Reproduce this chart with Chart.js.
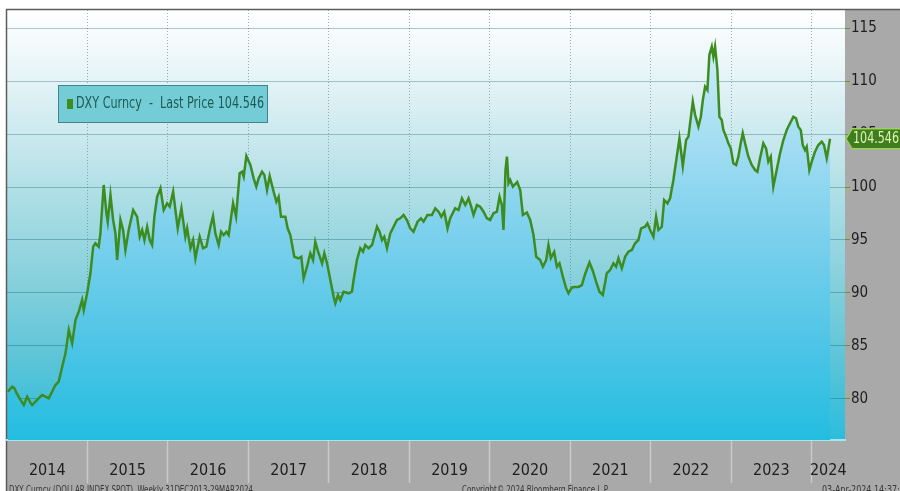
<!DOCTYPE html>
<html>
<head>
<meta charset="utf-8">
<title>DXY Curncy</title>
<script src="https://cdn.jsdelivr.net/npm/chart.js@4.4.1/dist/chart.umd.min.js"></script>
<style>
  html, body { margin: 0; padding: 0; background: #fff; overflow: hidden; }
  #wrap { width: 900px; height: 491px; }
</style>
</head>
<body>
<div id="wrap"><canvas id="dxy-chart" width="900" height="491"></canvas></div>
<script>
// DXY weekly last price, 31 Dec 2013 - 29 Mar 2024 (turning points, decimal years)
const seriesLabel = "DXY Curncy";

const weeks = [
  2014.010, 2014.065, 2014.093, 2014.118, 2014.168, 2014.209, 2014.251, 2014.283, 2014.313, 2014.354,
  2014.395, 2014.437, 2014.478, 2014.519, 2014.561, 2014.602, 2014.643, 2014.686, 2014.727, 2014.768,
  2014.789, 2014.810, 2014.851, 2014.892, 2014.934, 2014.954, 2014.996, 2015.037, 2015.071, 2015.099,
  2015.140, 2015.161, 2015.202, 2015.236, 2015.252, 2015.286, 2015.319, 2015.348, 2015.369, 2015.410,
  2015.443, 2015.472, 2015.513, 2015.568, 2015.617, 2015.650, 2015.680, 2015.708, 2015.742, 2015.774,
  2015.804, 2015.832, 2015.866, 2015.907, 2015.948, 2015.990, 2016.022, 2016.065, 2016.122, 2016.168,
  2016.217, 2016.239, 2016.280, 2016.313, 2016.342, 2016.395, 2016.437, 2016.478, 2016.528, 2016.561,
  2016.590, 2016.631, 2016.661, 2016.693, 2016.727, 2016.755, 2016.810, 2016.847, 2016.892, 2016.922,
  2016.942, 2016.975, 2017.025, 2017.066, 2017.099, 2017.128, 2017.170, 2017.199, 2017.232, 2017.265,
  2017.314, 2017.348, 2017.376, 2017.406, 2017.460, 2017.488, 2017.522, 2017.571, 2017.625, 2017.658,
  2017.687, 2017.729, 2017.770, 2017.804, 2017.832, 2017.873, 2017.916, 2017.944, 2017.978, 2018.019,
  2018.060, 2018.081, 2018.114, 2018.143, 2018.184, 2018.246, 2018.288, 2018.308, 2018.350, 2018.391,
  2018.425, 2018.453, 2018.494, 2018.537, 2018.599, 2018.631, 2018.661, 2018.689, 2018.723, 2018.764,
  2018.805, 2018.847, 2018.888, 2018.929, 2018.971, 2019.012, 2019.053, 2019.103, 2019.145, 2019.178,
  2019.227, 2019.282, 2019.323, 2019.364, 2019.398, 2019.435, 2019.476, 2019.509, 2019.571, 2019.612,
  2019.655, 2019.696, 2019.737, 2019.770, 2019.799, 2019.841, 2019.882, 2019.923, 2019.965, 2020.006,
  2020.047, 2020.089, 2020.122, 2020.151, 2020.171, 2020.196, 2020.214, 2020.234, 2020.255, 2020.288,
  2020.342, 2020.379, 2020.412, 2020.462, 2020.503, 2020.544, 2020.578, 2020.627, 2020.661, 2020.702,
  2020.730, 2020.760, 2020.801, 2020.835, 2020.867, 2020.909, 2020.950, 2020.979, 2021.021, 2021.062,
  2021.103, 2021.145, 2021.186, 2021.240, 2021.282, 2021.323, 2021.364, 2021.406, 2021.455, 2021.497,
  2021.538, 2021.571, 2021.600, 2021.642, 2021.683, 2021.724, 2021.766, 2021.807, 2021.848, 2021.882,
  2021.932, 2021.960, 2021.994, 2022.035, 2022.068, 2022.097, 2022.139, 2022.168, 2022.209, 2022.242,
  2022.283, 2022.325, 2022.358, 2022.400, 2022.441, 2022.470, 2022.524, 2022.553, 2022.594, 2022.624,
  2022.649, 2022.677, 2022.706, 2022.730, 2022.760, 2022.780, 2022.801, 2022.830, 2022.855, 2022.884,
  2022.904, 2022.938, 2022.966, 2022.996, 2023.028, 2023.062, 2023.091, 2023.120, 2023.145, 2023.174,
  2023.215, 2023.257, 2023.298, 2023.327, 2023.360, 2023.401, 2023.435, 2023.463, 2023.493, 2023.525,
  2023.567, 2023.609, 2023.650, 2023.692, 2023.733, 2023.774, 2023.807, 2023.836, 2023.866, 2023.891,
  2023.919, 2023.940, 2023.973, 2024.003, 2024.043, 2024.084, 2024.127, 2024.155, 2024.189, 2024.230
];

const dxyClose = [
  80.69, 81.16, 81.01, 80.57, 79.91, 79.43, 80.22, 79.75, 79.43, 79.75,
  80.07, 80.38, 80.22, 80.07, 80.69, 81.32, 81.63, 83.05, 84.31, 86.51,
  85.88, 85.25, 87.45, 88.24, 89.34, 88.40, 89.97, 91.86, 94.37, 94.69,
  94.37, 95.63, 100.19, 97.52, 96.73, 99.25, 96.89, 95.63, 93.11, 96.89,
  95.94, 94.06, 95.94, 97.83, 97.20, 95.31, 95.94, 95.00, 96.25, 95.00,
  94.53, 97.20, 99.08, 99.88, 97.83, 98.46, 98.14, 99.56, 96.10, 97.99,
  95.31, 96.10, 94.22, 95.00, 93.27, 95.31, 94.22, 94.37, 96.25, 97.26,
  95.63, 94.53, 95.78, 95.47, 95.78, 95.47, 98.46, 97.20, 101.29, 101.44,
  100.97, 102.92, 102.08, 100.82, 100.03, 100.82, 101.44, 101.13, 99.72, 101.04,
  99.56, 98.61, 99.08, 97.20, 97.20, 96.10, 95.47, 93.42, 93.27, 93.42,
  91.39, 92.48, 93.75, 93.11, 94.84, 93.75, 92.80, 93.75, 92.80, 91.23,
  89.65, 89.03, 89.81, 89.34, 90.12, 89.97, 90.12, 91.23, 93.11, 94.22,
  93.90, 94.53, 94.22, 94.53, 96.25, 95.78, 95.00, 95.31, 94.22, 95.63,
  96.25, 96.89, 97.05, 97.36, 96.89, 96.10, 95.78, 96.73, 97.05, 96.73,
  97.36, 97.36, 97.99, 97.67, 97.20, 97.67, 96.10, 97.05, 97.99, 97.83,
  98.93, 98.30, 98.93, 98.14, 97.36, 98.30, 98.14, 97.67, 97.05, 96.89,
  97.52, 97.67, 99.08, 98.30, 95.94, 101.60, 102.86, 100.35, 100.66, 100.03,
  100.47, 99.72, 97.36, 97.59, 96.89, 95.47, 93.42, 93.11, 92.48, 93.11,
  94.53, 93.30, 93.87, 92.48, 92.80, 91.54, 90.44, 89.97, 90.52, 90.57,
  90.57, 90.75, 91.79, 92.88, 92.08, 91.04, 90.12, 89.81, 91.86, 92.17,
  92.80, 92.48, 93.27, 92.33, 93.42, 93.90, 94.06, 94.69, 95.00, 96.10,
  96.25, 96.57, 95.94, 95.31, 97.20, 95.94, 96.25, 98.77, 98.46, 98.93,
  100.66, 102.86, 104.59, 101.98, 104.43, 104.75, 108.05, 106.79, 105.69, 106.63,
  108.21, 109.46, 109.15, 112.45, 113.24, 112.29, 113.24, 111.04, 106.63, 106.32,
  105.38, 104.75, 104.12, 103.65, 102.24, 102.08, 102.86, 104.12, 105.07, 104.12,
  102.86, 102.08, 101.60, 101.44, 102.71, 104.12, 103.65, 102.39, 102.86, 100.03,
  101.60, 103.18, 104.43, 105.38, 106.01, 106.63, 106.48, 105.69, 105.38, 103.96,
  103.49, 103.80, 101.60, 102.39, 103.33, 103.96, 104.27, 103.96, 102.71, 104.546
];

const yearLabels = ["2014", "2015", "2016", "2017", "2018", "2019", "2020", "2021", "2022", "2023", "2024"];
const priceTicks = [80, 85, 90, 95, 100, 105, 110, 115];

const xMin = 2014.0, xMax = 2024.416;
const yMin = 76.13, yMax = 116.7;

const NARROW = "'DejaVu Sans Condensed', 'Liberation Sans', sans-serif";
const lastPrice = dxyClose[dxyClose.length - 1];

// year boundaries carry the grid lines, the middle of each visible year carries the label
const yearTicks = [];
yearLabels.forEach(function (lbl) {
  const start = Number(lbl);
  if (start > xMin) yearTicks.push({ value: start, label: "" });
  const a = Math.max(start, xMin), b = Math.min(start + 1, xMax);
  yearTicks.push({ value: (a + b) / 2, label: lbl });
});

const isBoundary = function (c) {
  return c.tick && Number.isInteger(c.tick.value);
};

// squeeze a string horizontally into the given width
function narrowText(ctx, text, x, y, width) {
  const w = ctx.measureText(text).width;
  ctx.save();
  ctx.translate(x, y);
  ctx.scale(Math.min(1, width / w), 1);
  ctx.fillText(text, 0, 0);
  ctx.restore();
}

// panel backgrounds and frame
const panelBackground = {
  id: "panelBackground",
  beforeDraw: function (chart) {
    const ctx = chart.ctx, a = chart.chartArea, w = chart.width, h = chart.height;
    ctx.save();
    ctx.fillStyle = "#ffffff";
    ctx.fillRect(0, 0, w, h);
    ctx.fillStyle = "#a9a9a9";
    ctx.fillRect(a.right, a.top - 1, w - a.right, h - a.top + 1);
    ctx.fillRect(a.left - 1, a.bottom, w - a.left + 1, h - a.bottom);

    const g = ctx.createLinearGradient(0, a.top, 0, a.bottom);
    g.addColorStop(0, "#ffffff");
    g.addColorStop(0.06, "#f6fbfc");
    g.addColorStop(0.22, "#d9eff3");
    g.addColorStop(0.42, "#b0dfe6");
    g.addColorStop(0.62, "#88d1dc");
    g.addColorStop(0.82, "#5ac4d7");
    g.addColorStop(1, "#2bbddd");
    ctx.fillStyle = g;
    ctx.fillRect(a.left, a.top, a.right - a.left, a.bottom - a.top);

    ctx.strokeStyle = "#5c5c5c";
    ctx.lineWidth = 1.5;
    ctx.beginPath();
    ctx.moveTo(a.left - 0.5, h);
    ctx.lineTo(a.left - 0.5, a.top - 0.5);
    ctx.lineTo(w, a.top - 0.5);
    ctx.stroke();
    ctx.restore();
  }
};

// legend box, last-price tag and footer lines
const annotations = {
  id: "annotations",
  afterDraw: function (chart) {
    const ctx = chart.ctx, a = chart.chartArea, w = chart.width;
    const yScale = chart.scales.y;
    ctx.save();

    // legend
    ctx.fillStyle = "#74ccd6";
    ctx.strokeStyle = "#40858c";
    ctx.lineWidth = 1;
    ctx.fillRect(58, 85, 210, 38);
    ctx.strokeRect(58.5, 85.5, 209, 37);
    ctx.fillStyle = "#3c8c1e";
    ctx.fillRect(67, 99, 6, 10);
    ctx.fillStyle = "#1f5b52";
    ctx.font = "15px " + NARROW;
    ctx.textBaseline = "middle";
    ctx.textAlign = "left";
    narrowText(ctx, seriesLabel + "  -  Last Price " + lastPrice.toFixed(3), 76, 104.5, 188);

    // last price tag on the value axis
    const y = yScale.getPixelForValue(lastPrice);
    const x0 = a.right + 1;
    ctx.beginPath();
    ctx.moveTo(x0, y);
    ctx.lineTo(x0 + 6, y - 10);
    ctx.lineTo(w + 2, y - 10);
    ctx.lineTo(w + 2, y + 10);
    ctx.lineTo(x0 + 6, y + 10);
    ctx.closePath();
    ctx.fillStyle = "#3f7d1f";
    ctx.fill();
    ctx.strokeStyle = "#9ccf5c";
    ctx.lineWidth = 1.5;
    ctx.stroke();
    ctx.fillStyle = "#def3ae";
    ctx.font = "15px " + NARROW;
    narrowText(ctx, lastPrice.toFixed(3), x0 + 7, y + 0.5, 46);

    // footer
    ctx.fillStyle = "#383838";
    ctx.font = "10px " + NARROW;
    ctx.textBaseline = "top";
    narrowText(ctx, "DXY Curncy (DOLLAR INDEX SPOT)  Weekly 31DEC2013-29MAR2024", 9, 485, 244);
    narrowText(ctx, "Copyright\u00a9 2024 Bloomberg Finance L.P.", 462, 485, 147);
    narrowText(ctx, "03-Apr-2024 14:37:34", 822, 485, 88);
    ctx.restore();
  }
};

document.addEventListener("DOMContentLoaded", function () {
  const ctx = document.getElementById("dxy-chart").getContext("2d");

  const points = weeks.map(function (t, i) {
    return { x: t, y: dxyClose[i] };
  });

  new Chart(ctx, {
    type: "line",
    data: {
      datasets: [{
        label: seriesLabel,
        data: points,
        borderColor: "#3d8c20",
        borderWidth: 2.5,
        pointRadius: 0,
        tension: 0,
        fill: "start",
        backgroundColor: function (c) {
          const a = c.chart.chartArea;
          if (!a) return "rgba(0,0,0,0)";
          const g = c.chart.ctx.createLinearGradient(0, a.top, 0, a.bottom);
          g.addColorStop(0, "#e2f4fb");
          g.addColorStop(0.2, "#b8e4f5");
          g.addColorStop(0.45, "#88d4ef");
          g.addColorStop(0.7, "#5cc8e8");
          g.addColorStop(1, "#23bde0");
          return g;
        }
      }]
    },
    options: {
      responsive: false,
      animation: false,
      layout: { padding: { left: 7, top: 10, right: 0, bottom: 0 } },
      plugins: {
        legend: { display: false },
        tooltip: { enabled: false }
      },
      scales: {
        x: {
          type: "linear",
          position: "bottom",
          min: xMin,
          max: xMax,
          z: 1,
          afterBuildTicks: function (scale) {
            scale.ticks = yearTicks.map(function (t) { return { value: t.value }; });
          },
          afterFit: function (scale) { scale.height = 51; },
          grid: {
            color: function (c) { return isBoundary(c) ? "rgba(95,110,118,0.55)" : "rgba(0,0,0,0)"; },
            tickColor: function (c) { return isBoundary(c) ? "#c9c9c9" : "rgba(0,0,0,0)"; },
            lineWidth: 1,
            tickLength: 43,
            tickWidth: 1.5
          },
          border: { display: true, color: "#a2e6f1", width: 2, dash: [1, 2] },
          ticks: {
            autoSkip: false,
            maxRotation: 0,
            padding: -22,
            color: "#1e1e1e",
            font: { family: NARROW, size: 16 },
            callback: function (value, index) {
              return yearTicks[index] ? yearTicks[index].label : "";
            }
          }
        },
        y: {
          type: "linear",
          position: "right",
          min: yMin,
          max: yMax,
          z: 1,
          afterBuildTicks: function (scale) {
            scale.ticks = priceTicks.map(function (v) { return { value: v }; });
          },
          afterFit: function (scale) { scale.width = 55; },
          grid: {
            color: "rgba(0,72,96,0.3)",
            lineWidth: 1,
            tickColor: "#5f9c2c",
            tickLength: 5
          },
          border: { display: false },
          ticks: {
            padding: 1,
            color: "#1e1e1e",
            font: { family: NARROW, size: 15 }
          }
        }
      }
    },
    plugins: [panelBackground, annotations]
  });
});
</script>
</body>
</html>
